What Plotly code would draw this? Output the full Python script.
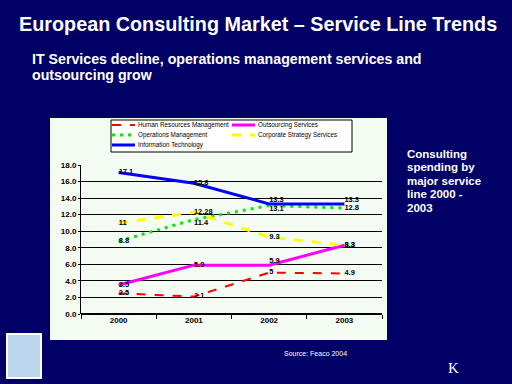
import plotly.graph_objects as go

years = ["2000", "2001", "2002", "2003"]
series_names = [
    "Human Resources Management",
    "Outsourcing Services",
    "Operations Management",
    "Corporate Strategy Services",
    "Information Technology",
]
hr_values = [2.5, 2.1, 5, 4.9]
outsourcing_values = [3.5, 5.9, 5.9, 8.3]
operations_values = [8.8, 11.4, 13.1, 12.8]
strategy_values = [11, 12.28, 9.3, 8.3]
it_values = [17.1, 15.8, 13.3, 13.3]
y_ticks = [0, 2, 4, 6, 8, 10, 12, 14, 16, 18]

NAVY = "#000066"
FONT = "Liberation Sans, Arial, sans-serif"

styles = [
    dict(color="#FF0000", width=2, dash="dash"),
    dict(color="#FF00FF", width=3, dash="solid"),
    dict(color="#00EE00", width=3, dash="3px,5px"),
    dict(color="#FFFF00", width=3, dash="dash"),
    dict(color="#0000FF", width=3, dash="solid"),
]
textpos = [
    ["middle right"] * 4,
    ["middle right", "middle right", "top right", "middle right"],
    ["middle right", "bottom right", "bottom right", "middle right"],
    ["middle right"] * 4,
    ["middle right", "middle right", "top right", "top right"],
]
all_values = [hr_values, outsourcing_values, operations_values, strategy_values, it_values]

fig = go.Figure()
for name, vals, st, tp in zip(series_names, all_values, styles, textpos):
    fig.add_trace(go.Scatter(
        x=years, y=vals, name=name, mode="lines+text",
        text=[str(v) for v in vals], textposition=tp,
        textfont=dict(family=FONT, size=7.5, color="black", weight="bold"),
        line=st, cliponaxis=False, showlegend=False,
    ))

# plot area in pixels: x 81..382, y 165..314
pw, ph = 301.0, 149.0
def px(x):
    return (x - 81) / pw
def py(y):
    return (314 - y) / ph

shapes = [
    dict(type="rect", xref="paper", yref="paper", x0=px(50), x1=px(387), y0=py(340), y1=py(118),
         fillcolor="#f3fbf3", line=dict(width=0), layer="below"),
    dict(type="rect", xref="paper", yref="paper", x0=px(7), x1=px(41),
         y0=py(378), y1=py(334), fillcolor="#bcd6ee", line=dict(color="white", width=2), layer="below"),
    # legend box
    dict(type="rect", xref="paper", yref="paper", x0=px(111), x1=px(352),
         y0=py(152), y1=py(120), fillcolor="white", line=dict(color="black", width=1)),
]

annotations = [
    dict(text="<b>European Consulting Market – Service Line Trends</b>", x=px(17), y=py(11),
         xref="paper", yref="paper", xanchor="left", yanchor="top", showarrow=False,
         font=dict(family=FONT, size=19.8, color="white")),
    dict(text="<b>IT Services decline, operations management services and</b>", x=px(30), y=py(49),
         xref="paper", yref="paper", xanchor="left", yanchor="top", showarrow=False,
         font=dict(family=FONT, size=14.2, color="white")),
    dict(text="<b>outsourcing grow</b>", x=px(30), y=py(65),
         xref="paper", yref="paper", xanchor="left", yanchor="top", showarrow=False,
         font=dict(family=FONT, size=14.2, color="white")),
    dict(text="Source: Feaco 2004", x=px(282), y=py(353), xref="paper", yref="paper",
         xanchor="left", yanchor="middle", showarrow=False,
         font=dict(family=FONT, size=7, color="white")),
    dict(text="K", x=px(446), y=py(368), xref="paper", yref="paper",
         xanchor="left", yanchor="middle", showarrow=False,
         font=dict(family="Liberation Serif, serif", size=15, color="white")),
]
side_lines = ["Consulting", "spending by", "major service", "line 2000 -", "2003"]
for i, t in enumerate(side_lines):
    annotations.append(dict(text="<b>" + t + "</b>", x=px(405), y=py(153.5 + 13.5 * i),
                            xref="paper", yref="paper", xanchor="left", yanchor="middle",
                            showarrow=False, font=dict(family=FONT, size=11.5, color="white")))

# manual legend (two columns, three rows) built from the series names and styles
legend_slots = [(112, 125), (232, 125), (112, 135), (232, 135), (112, 145)]
for name, st, (lx, ly) in zip(series_names, styles, legend_slots):
    shapes.append(dict(type="line", xref="paper", yref="paper", x0=px(lx), x1=px(lx + 23),
                       y0=py(ly), y1=py(ly),
                       line=dict(color=st["color"], width=st["width"], dash=st["dash"])))
    annotations.append(dict(text=name, x=px(lx + 24), y=py(ly), xref="paper", yref="paper",
                            xanchor="left", yanchor="middle", showarrow=False,
                            font=dict(family=FONT, size=6.3, color="black")))

fig.update_layout(
    width=512, height=384,
    margin=dict(l=81, r=130, t=165, b=70),
    paper_bgcolor=NAVY, plot_bgcolor="rgba(0,0,0,0)",
    shapes=shapes, annotations=annotations,
    showlegend=False,
    xaxis=dict(type="category", range=[-0.5, 3.5], showgrid=False, zeroline=False,
               showline=False, ticks="outside", tickson="boundaries", ticklen=4,
               tickcolor="black", tickfont=dict(family=FONT, size=8, color="black", weight="bold")),
    yaxis=dict(range=[0, 18], tickvals=y_ticks, tickformat=".1f", showgrid=True,
               gridcolor="black", gridwidth=1, zeroline=True, zerolinecolor="black",
               showline=True, linecolor="black", linewidth=1, ticks="outside", ticklen=2,
               tickcolor="black", tickfont=dict(family=FONT, size=8, color="black", weight="bold")),
)

fig.write_html("out.html", config={"displayModeBar": False},
               post_script="document.body.style.margin='0';document.body.style.background='#000066';")
